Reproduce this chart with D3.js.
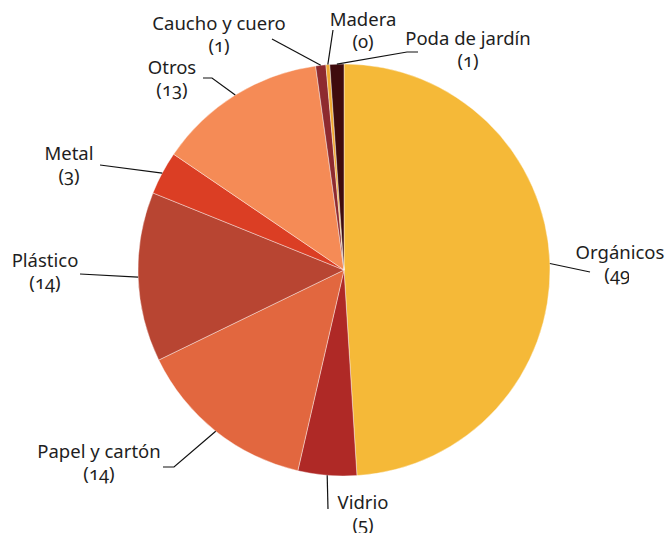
<!DOCTYPE html>
<html lang="es">
<head>
<meta charset="utf-8" />
<title>Composición de residuos</title>
<script src="https://cdn.jsdelivr.net/npm/d3@7"></script>
<style>
  body { margin: 0; background: #fff; }
  text { font-family: "Noto Sans", "Open Sans", sans-serif; font-size: 18.5px; fill: #1e1e1e;
         font-variant-numeric: oldstyle-nums; }
</style>
</head>
<body>
<svg width="668" height="533"></svg>
<script>
// datos (porcentajes, en sentido horario desde arriba)
var categories = ["Orgánicos", "Vidrio", "Papel y cartón", "Plástico", "Metal", "Otros", "Caucho y cuero", "Madera", "Poda de jardín"];
var values = [49, 4.6, 14.2, 13.3, 3.4, 13.3, 0.8, 0.3, 1.1];
var shownValues = [49, 5, 14, 14, 3, 13, 1, 0, 1];
var colors = ["#F5B938", "#AF2926", "#E2673F", "#B84532", "#DB3E24", "#F58B56", "#8E2A2F", "#F0A830", "#3F0B0D"];

// posiciones de etiquetas (centro x, línea base) y codos de las guías
var labelPos = [[620, 259], [363, 509], [99, 458], [45, 267], [69, 160], [172, 74], [219, 30], [363, 26], [468, 45]];
var leaderEnds = [
  [[590, 272]],
  [[328, 509]],
  [[174, 467], [163, 467]],
  [[80, 274]],
  [[100, 165]],
  [[212, 78], [203, 78]],
  [[272, 39]],
  [[333, 30]],
  [[407, 52], [418, 52]]
];

var svg = d3.select("svg");
var cx = 344, cy = 270, r = 206;

var pie = d3.pie().sort(null).value(function (d) { return d; });
var arcs = pie(values);
var arc = d3.arc().innerRadius(0).outerRadius(r);
var edge = d3.arc().innerRadius(r).outerRadius(r);

var g = svg.append("g").attr("transform", "translate(" + cx + "," + cy + ")");

g.selectAll("path.slice")
  .data(arcs)
  .enter().append("path")
  .attr("class", "slice")
  .attr("d", arc)
  .attr("fill", function (d, i) { return colors[i]; })
  .attr("stroke", "#fff")
  .attr("stroke-width", 0.4);

// líneas guía
var line = d3.line();
svg.selectAll("path.leader")
  .data(arcs)
  .enter().append("path")
  .attr("class", "leader")
  .attr("d", function (d, i) {
    var c = edge.centroid(d);
    var pts = [[cx + c[0], cy + c[1]]].concat(leaderEnds[i]);
    return line(pts);
  })
  .attr("fill", "none")
  .attr("stroke", "#111")
  .attr("stroke-width", 1.2);

// etiquetas
svg.append("clipPath").attr("id", "clipv")
  .append("rect").attr("x", 0).attr("y", 0).attr("width", 629).attr("height", 533);

svg.selectAll("text.name")
  .data(categories)
  .enter().append("text")
  .attr("class", "name")
  .attr("x", function (d, i) { return labelPos[i][0]; })
  .attr("y", function (d, i) { return labelPos[i][1]; })
  .attr("text-anchor", "middle")
  .text(function (d) { return d; });

svg.append("g").attr("clip-path", "url(#clipv)")
  .selectAll("text.val")
  .data(shownValues)
  .enter().append("text")
  .attr("class", "val")
  .attr("x", function (d, i) { return labelPos[i][0]; })
  .attr("y", function (d, i) { return labelPos[i][1] + 22; })
  .attr("text-anchor", "middle")
  .text(function (d) { return "(" + d + ")"; });
</script>
</body>
</html>
